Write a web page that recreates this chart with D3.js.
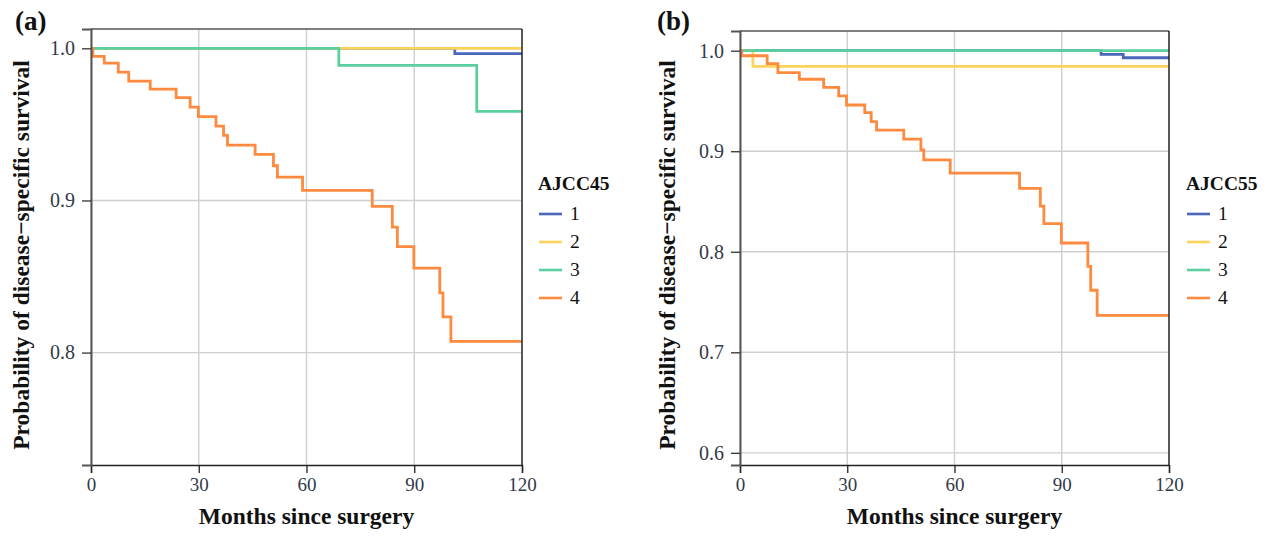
<!DOCTYPE html>
<html>
<head>
<meta charset="utf-8">
<script src="https://cdn.jsdelivr.net/npm/d3@7"></script>
<style>
  body { margin: 0; background: #fff; }
  svg text { font-family: "Liberation Serif", "DejaVu Serif", serif; }
</style>
</head>
<body>
<svg id="chart" width="1276" height="538"></svg>
<script>
// Kaplan-Meier step points [month, survival]
const groups = ["1", "2", "3", "4"];
const groupColors = ["#4a67b9", "#fdd35c", "#5ccf9f", "#fd8a3e"];
const xTicks = [0, 30, 60, 90, 120];

// panel (a) - AJCC45
const a1 = [[0, 1], [101.3, 0.9965], [120, 0.9965]];
const a2 = [[0, 1], [120, 1]];
const a3 = [[0, 1], [69.0, 0.9888], [107.4, 0.9586], [120, 0.9586]];
const a4 = [[0, 1], [0.5, 0.9947], [3.7, 0.9903], [7.6, 0.9844], [10.5, 0.9785],
  [16.5, 0.9732], [23.7, 0.9676], [27.6, 0.9614], [29.9, 0.9551], [34.8, 0.9489],
  [36.9, 0.9428], [38.0, 0.9364], [45.7, 0.9303], [50.8, 0.9228], [51.9, 0.9153],
  [58.9, 0.9066], [78.3, 0.8961], [83.9, 0.8824], [85.3, 0.8697], [89.9, 0.8555],
  [97.1, 0.8393], [98.0, 0.8235], [100.2, 0.8074], [120, 0.8074]];
const yTicksA = [0.8, 0.9, 1.0];

// panel (b) - AJCC55
const b1 = [[0, 1], [101.0, 0.9964], [107.2, 0.993], [120, 0.993]];
const b2 = [[0, 1], [3.6, 0.9845], [120, 0.9845]];
const b3 = [[0, 1], [120, 1]];
const b4 = [[0, 1], [0.5, 0.995], [7.6, 0.9871], [10.6, 0.9782], [16.6, 0.9716],
  [23.4, 0.9636], [27.6, 0.955], [29.8, 0.946], [34.9, 0.9384], [36.7, 0.9295],
  [38.2, 0.921], [45.8, 0.912], [50.6, 0.9014], [51.4, 0.8915], [58.8, 0.8782],
  [78.2, 0.863], [84.0, 0.8455], [85.0, 0.828], [89.9, 0.8087], [97.3, 0.7855],
  [98.1, 0.7617], [99.9, 0.7368], [120, 0.7368]];
const yTicksB = [0.6, 0.7, 0.8, 0.9, 1.0];

const svg = d3.select("#chart");

function drawPanel(opt) {
  const { left, right, top, bottom, yDomain, yTicks, series, label, legendTitle, legendX, titleX } = opt;

  const x = d3.scaleLinear().domain([0, 120]).range([left, right]);
  const y = d3.scaleLinear().domain(yDomain).range([bottom, top]);
  const g = svg.append("g");

  // grid
  g.selectAll(".gx").data(xTicks).join("line")
    .attr("x1", d => x(d)).attr("x2", d => x(d))
    .attr("y1", top).attr("y2", bottom)
    .attr("stroke", "#cfcfcf").attr("stroke-width", 1.4);
  g.selectAll(".gy").data(yTicks).join("line")
    .attr("x1", left).attr("x2", right)
    .attr("y1", d => y(d)).attr("y2", d => y(d))
    .attr("stroke", "#cfcfcf").attr("stroke-width", 1.4);

  // survival curves
  const line = d3.line()
    .x(d => x(d[0]))
    .y(d => y(d[1]))
    .curve(d3.curveStepAfter);
  series.forEach((s, i) => {
    g.append("path")
      .attr("d", line(s))
      .attr("fill", "none")
      .attr("stroke", groupColors[i])
      .attr("stroke-width", 2.8);
  });

  // frame
  g.append("line").attr("x1", left).attr("x2", right).attr("y1", top).attr("y2", top)
    .attr("stroke", "#555").attr("stroke-width", 1.3);
  g.append("line").attr("x1", right).attr("x2", right).attr("y1", top).attr("y2", bottom)
    .attr("stroke", "#111").attr("stroke-width", 1.3);

  // axes
  const xAxis = d3.axisBottom(x).tickValues(xTicks).tickSize(8).tickPadding(5).tickFormat(d3.format("d"));
  const gx = g.append("g").attr("transform", `translate(0,${bottom})`).call(xAxis);
  gx.select(".domain").attr("stroke", "#222").attr("stroke-width", 1.4);
  gx.selectAll(".tick line").attr("stroke", "#222").attr("stroke-width", 1.3);
  gx.selectAll("text").attr("font-size", 19).attr("fill", "#333a4a")
    .style("font-family", "Liberation Serif");

  const yAxis = d3.axisLeft(y).tickValues(yTicks).tickSize(9).tickPadding(7).tickFormat(d3.format(".1f"));
  const gy = g.append("g").attr("transform", `translate(${left},0)`).call(yAxis);
  gy.select(".domain").attr("stroke", "#555").attr("stroke-width", 2);
  gy.selectAll(".tick line").attr("stroke", "#333").attr("stroke-width", 1.3);
  gy.selectAll("text").attr("font-size", 20).attr("fill", "#333a4a")
    .style("font-family", "Liberation Serif");

  // titles
  g.append("text")
    .attr("x", (left + right) / 2).attr("y", 524)
    .attr("text-anchor", "middle")
    .attr("font-size", 23.5).attr("font-weight", "bold").attr("fill", "#111")
    .text("Months since surgery");

  g.append("text")
    .attr("transform", `translate(${titleX},255) rotate(-90)`)
    .attr("text-anchor", "middle")
    .attr("font-size", 23.5).attr("font-weight", "bold").attr("fill", "#111")
    .text("Probability of disease\u2212specific survival");

  g.append("text")
    .attr("x", label.x).attr("y", 30)
    .attr("font-size", 27).attr("font-weight", "bold").attr("fill", "#111")
    .text(label.text);

  // legend
  const lg = g.append("g").attr("transform", `translate(${legendX},0)`);
  lg.append("text").attr("x", 0).attr("y", 190)
    .attr("font-size", 19.5).attr("font-weight", "bold").attr("fill", "#111")
    .text(legendTitle);
  groups.forEach((name, i) => {
    const ly = 214 + i * 28;
    lg.append("line").attr("x1", 1).attr("x2", 24).attr("y1", ly).attr("y2", ly)
      .attr("stroke", groupColors[i]).attr("stroke-width", 2.6);
    lg.append("text").attr("x", 32).attr("y", ly + 6)
      .attr("font-size", 19.5).attr("fill", "#111")
      .text(name);
  });
}

drawPanel({
  left: 91, right: 522, top: 29, bottom: 465,
  yDomain: [0.7261, 1.0127], yTicks: yTicksA,
  series: [a1, a2, a3, a4],
  label: { x: 15, text: "(a)" },
  legendTitle: "AJCC45", legendX: 538, titleX: 29
});

drawPanel({
  left: 740, right: 1169, top: 31, bottom: 465,
  yDomain: [0.5879, 1.0196], yTicks: yTicksB,
  series: [b1, b2, b3, b4],
  label: { x: 657, text: "(b)" },
  legendTitle: "AJCC55", legendX: 1186, titleX: 675
});
</script>
</body>
</html>
